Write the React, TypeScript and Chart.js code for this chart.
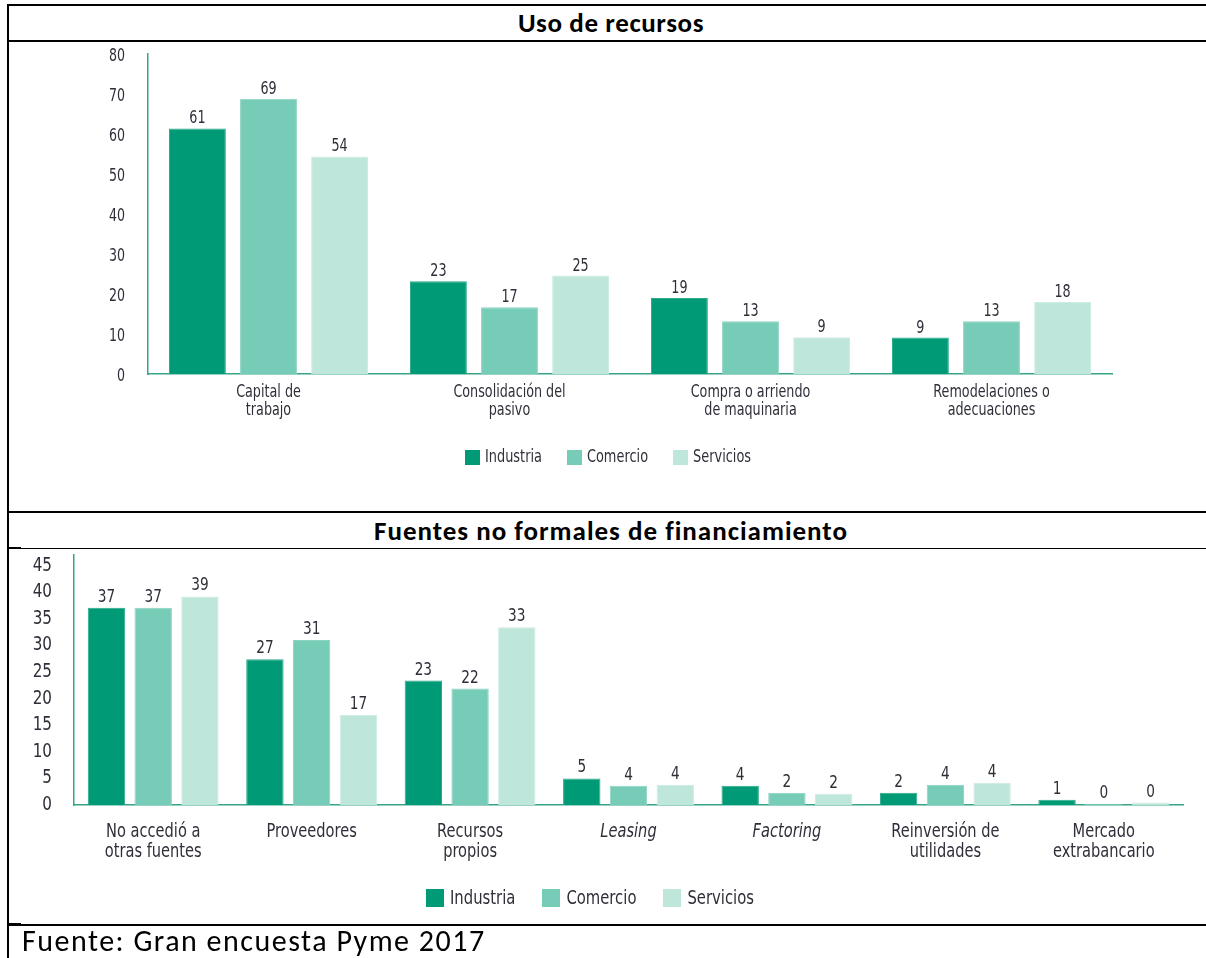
import React, { useEffect, useRef } from 'react';
import { Chart, registerables } from 'chart.js';

Chart.register(...registerables);

// ---------- data ----------
const seriesNames = ['Industria', 'Comercio', 'Servicios'];
const seriesColors = ['#009B76', '#76CCB6', '#BEE6DA'];
const seriesBorders = ['#2AA987', '#8BD4C2', '#CDECE3'];

const usoTitle = 'Uso de recursos';
const usoCategories = [
  ['Capital de', 'trabajo'],
  ['Consolidación del', 'pasivo'],
  ['Compra o arriendo', 'de maquinaria'],
  ['Remodelaciones o', 'adecuaciones'],
];
const usoIndustria = [61.4, 23.2, 19, 9.1];
const usoComercio = [68.8, 16.7, 13.2, 13.2];
const usoServicios = [54.4, 24.6, 9.2, 18];
const usoTicks = [0, 10, 20, 30, 40, 50, 60, 70, 80];

const fuentesTitle = 'Fuentes no formales de financiamiento';
const fuentesCategories = [
  ['No accedió a', 'otras fuentes'],
  ['Proveedores'],
  ['Recursos', 'propios'],
  ['Leasing'],
  ['Factoring'],
  ['Reinversión de', 'utilidades'],
  ['Mercado', 'extrabancario'],
];
const fuentesItalic = ['Leasing', 'Factoring'];
const fuentesIndustria = [37.1, 27.4, 23.4, 5.0, 3.6, 2.3, 1.0];
const fuentesComercio = [37.1, 31.0, 21.9, 3.6, 2.3, 3.8, 0.25];
const fuentesServicios = [39.2, 16.9, 33.4, 3.8, 2.1, 4.2, 0.45];
const fuentesTicks = [0, 5, 10, 15, 20, 25, 30, 35, 40, 45];
const fuentesAxisMax = 47;

const footnote = 'Fuente: Gran encuesta Pyme 2017';

// ---------- style ----------
const TEXT = '#2F2F3A';
const AXIS = '#34A586';
const FONT = "'DejaVu Sans', sans-serif";
const TITLE_FONT = "Carlito, Lato, 'Open Sans', sans-serif";

function drawNarrow(ctx: any, text: string, x: number, y: number, sx: number) {
  ctx.save();
  ctx.translate(x, y);
  ctx.scale(sx, 1);
  ctx.fillText(text, 0, 0);
  ctx.restore();
}

// value labels above each bar, positioned from the bar elements
const valueLabelPlugin = {
  id: 'valueLabels',
  afterDatasetsDraw(chart: any, _args: any, opts: any) {
    const ctx = chart.ctx;
    ctx.save();
    ctx.font = `${opts.size}px ${FONT}`;
    ctx.fillStyle = opts.color;
    ctx.textAlign = 'center';
    ctx.textBaseline = 'alphabetic';
    chart.data.datasets.forEach((ds: any, i: number) => {
      const meta = chart.getDatasetMeta(i);
      meta.data.forEach((el: any, j: number) => {
        drawNarrow(ctx, String(Math.round(ds.data[j])), el.x, el.y - opts.offset, opts.sx);
      });
    });
    ctx.restore();
  },
};

// condensed axis labels, placed with the chart's own scales
const narrowAxisPlugin = {
  id: 'narrowAxis',
  afterDraw(chart: any, _args: any, opts: any) {
    const ctx = chart.ctx;
    const xs = chart.scales.x;
    const ys = chart.scales.y;
    ctx.save();
    ctx.fillStyle = opts.color;
    ctx.textAlign = 'center';
    ctx.textBaseline = 'middle';
    xs.ticks.forEach((_t: any, i: number) => {
      const lab = chart.data.labels[i];
      const lines: string[] = Array.isArray(lab) ? lab : [lab];
      const italic = (opts.italic || []).includes(lines.join(' '));
      ctx.font = `${italic ? 'italic ' : ''}${opts.xSize}px ${FONT}`;
      const px = xs.getPixelForTick(i);
      lines.forEach((line, k) => {
        drawNarrow(ctx, line, px, xs.top + opts.xPad + opts.xLine * (k + 0.5), opts.sx);
      });
    });
    ctx.textAlign = 'right';
    ctx.font = `${opts.ySize}px ${FONT}`;
    ys.ticks.forEach((t: any, i: number) => {
      drawNarrow(ctx, String(t.value), ys.right - opts.yPad, ys.getPixelForTick(i) + opts.yShift, opts.ySx);
    });
    ctx.restore();
  },
};

// legend with square swatches, built from the datasets
const boxLegendPlugin = {
  id: 'boxLegend',
  afterDraw(chart: any, _args: any, opts: any) {
    const ctx = chart.ctx;
    ctx.save();
    ctx.font = `${opts.size}px ${FONT}`;
    const items = chart.data.datasets.map((ds: any) => ({
      label: ds.label,
      color: ds.backgroundColor,
      w: ctx.measureText(ds.label).width * opts.sx,
    }));
    const total =
      items.reduce((s: number, it: any) => s + opts.box + opts.gap + it.w, 0) +
      opts.spacing * (items.length - 1);
    let x = opts.cx - total / 2;
    ctx.textAlign = 'left';
    ctx.textBaseline = 'middle';
    items.forEach((it: any) => {
      ctx.fillStyle = it.color;
      ctx.fillRect(Math.round(x), Math.round(opts.cy - opts.box / 2), opts.box, opts.box);
      x += opts.box + opts.gap;
      ctx.fillStyle = opts.color;
      drawNarrow(ctx, it.label, x, opts.cy + 1, opts.sx);
      x += it.w + opts.spacing;
    });
    ctx.restore();
  },
};

function makeDatasets(values: number[][]) {
  return seriesNames.map((name, i) => ({
    label: name,
    data: values[i],
    backgroundColor: seriesColors[i],
    borderColor: seriesBorders[i],
    borderWidth: 1,
    borderSkipped: 'bottom',
    categoryPercentage: 0.885,
    barPercentage: 0.8,
  }));
}

function axisOptions(extra: any) {
  return {
    grid: { display: false, drawTicks: false },
    border: { display: true, color: AXIS, width: 1.5 },
    ticks: { display: false },
    ...extra,
  };
}

const usoConfig: any = {
  type: 'bar',
  data: {
    labels: usoCategories,
    datasets: makeDatasets([usoIndustria, usoComercio, usoServicios]),
  },
  options: {
    responsive: false,
    animation: false,
    devicePixelRatio: 1,
    layout: { padding: { left: 0, right: 94, top: 12, bottom: 77 } },
    plugins: {
      legend: { display: false },
      tooltip: { enabled: false },
      valueLabels: { size: 17, color: TEXT, offset: 5, sx: 0.75 },
      narrowAxis: {
        color: TEXT, xSize: 17, xPad: 10, xLine: 18, sx: 0.75,
        ySize: 17, yPad: 23, yShift: 3, ySx: 0.74,
      },
      boxLegend: { size: 17, color: TEXT, box: 15, gap: 5, spacing: 25, sx: 0.76, cx: 598, cy: 415 },
    },
    scales: {
      x: axisOptions({
        afterFit: (s: any) => {
          s.height = 60;
        },
      }),
      y: axisOptions({
        min: 0,
        max: usoTicks[usoTicks.length - 1],
        afterBuildTicks: (s: any) => {
          s.ticks = usoTicks.map((v) => ({ value: v }));
        },
        afterFit: (s: any) => {
          s.width = 138;
        },
      }),
    },
  },
  plugins: [valueLabelPlugin, narrowAxisPlugin, boxLegendPlugin],
};

const fuentesConfig: any = {
  type: 'bar',
  data: {
    labels: fuentesCategories,
    datasets: makeDatasets([fuentesIndustria, fuentesComercio, fuentesServicios]),
  },
  options: {
    responsive: false,
    animation: false,
    devicePixelRatio: 1,
    layout: { padding: { left: 0, right: 23, top: 6, bottom: 49 } },
    plugins: {
      legend: { display: false },
      tooltip: { enabled: false },
      valueLabels: { size: 18, color: TEXT, offset: 6, sx: 0.76 },
      narrowAxis: {
        color: TEXT, xSize: 19, xPad: 17.5, xLine: 20, sx: 0.77, italic: fuentesItalic,
        ySize: 19, yPad: 22, yShift: 0, ySx: 0.8,
      },
      boxLegend: { size: 19, color: TEXT, box: 18, gap: 6, spacing: 27, sx: 0.78, cx: 580, cy: 349 },
    },
    scales: {
      x: axisOptions({
        afterFit: (s: any) => {
          s.height = 70;
        },
      }),
      y: axisOptions({
        min: 0,
        max: fuentesAxisMax,
        afterBuildTicks: (s: any) => {
          s.ticks = fuentesTicks.map((v) => ({ value: v }));
        },
        afterFit: (s: any) => {
          s.width = 64;
        },
      }),
    },
  },
  plugins: [valueLabelPlugin, narrowAxisPlugin, boxLegendPlugin],
};

function ChartCanvas(props: { config: any; left: number; top: number; width: number; height: number }) {
  const ref = useRef<HTMLCanvasElement>(null);
  useEffect(() => {
    const chart = new Chart(ref.current as HTMLCanvasElement, props.config);
    return () => chart.destroy();
  }, []);
  return (
    <canvas
      ref={ref}
      width={props.width}
      height={props.height}
      style={{
        position: 'absolute',
        left: props.left,
        top: props.top,
        width: props.width,
        height: props.height,
      }}
    />
  );
}

function Line(props: { left: number; top: number; width: number; height: number }) {
  return (
    <div
      style={{
        position: 'absolute',
        left: props.left,
        top: props.top,
        width: props.width,
        height: props.height,
        background: '#000',
        zIndex: 2,
      }}
    />
  );
}

function Title(props: { text: string; top: number; spacing: number }) {
  return (
    <div
      style={{
        position: 'absolute',
        left: 9,
        width: 1204,
        top: props.top,
        textAlign: 'center',
        fontFamily: TITLE_FONT,
        fontWeight: 700,
        fontSize: 27,
        letterSpacing: `${props.spacing}px`,
        lineHeight: '27px',
        color: '#000',
        whiteSpace: 'nowrap',
      }}
    >
      {props.text}
    </div>
  );
}

export default function App() {
  return (
    <div
      style={{
        position: 'absolute',
        left: 0,
        top: 0,
        width: 1206,
        height: 958,
        overflow: 'hidden',
        background: '#fff',
      }}
    >
      <Title text={usoTitle} top={9} spacing={0.6} />
      <ChartCanvas config={usoConfig} left={10} top={42} width={1196} height={469} />
      <Title text={fuentesTitle} top={517} spacing={1} />
      <ChartCanvas config={fuentesConfig} left={10} top={549} width={1196} height={375} />
      <div
        style={{
          position: 'absolute',
          left: 22,
          top: 926,
          fontFamily: TITLE_FONT,
          fontSize: 30,
          letterSpacing: '1.5px',
          lineHeight: '30px',
          color: '#000',
          whiteSpace: 'nowrap',
        }}
      >
        {footnote}
      </div>
      <Line left={7} top={4} width={1210} height={2} />
      <Line left={7} top={4} width={2} height={960} />
      <Line left={7} top={40} width={1210} height={2} />
      <Line left={7} top={511} width={1210} height={2} />
      <Line left={7} top={548} width={1210} height={1} />
      <Line left={9} top={547} width={12} height={2} />
      <Line left={7} top={924} width={1210} height={2} />
      <Line left={9} top={923} width={12} height={2} />
    </div>
  );
}
